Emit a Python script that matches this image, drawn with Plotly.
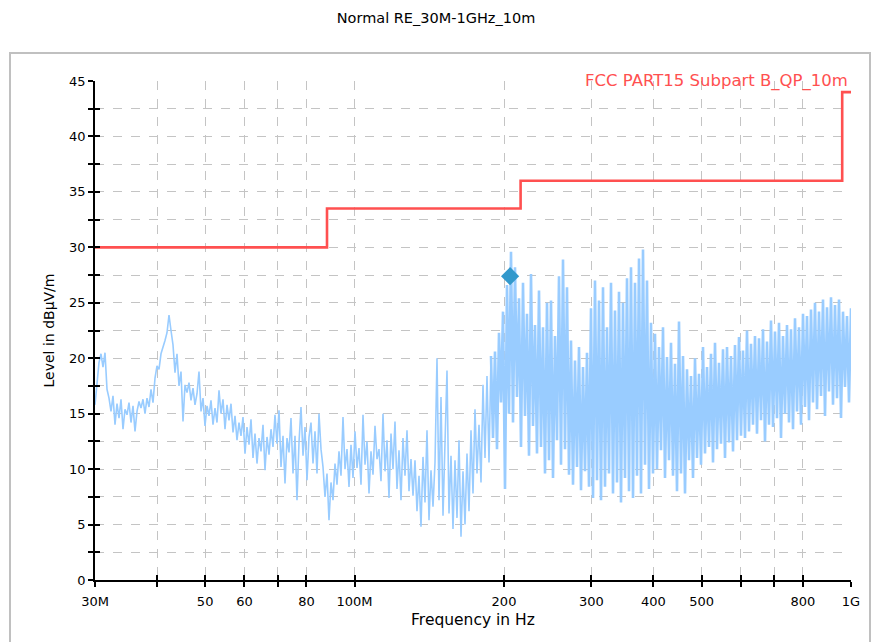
import numpy as np
import plotly.graph_objects as go

# ---------------- data ----------------
title_text = "Normal RE_30M-1GHz_10m"
limit_name = "FCC PART15 Subpart B_QP_10m"

# limit line (MHz, dBuV/m), step after each point
limit_freq = [30, 88, 216, 960, 1000]
limit_level = [30, 33.5, 36, 44, 44]

# final QP marker
marker_freq = [205.7]
marker_level = [27.4]

# pre-scan sweep levels (dBuV/m), read left to right across 30 MHz .. 1 GHz
scan_level = [
    15.8, 17.8, 19.6, 20.4, 19.2, 20.5, 17.2, 16.4, 15.2, 16.6,
    14.0, 15.9, 14.6, 16.3, 13.6, 15.4, 14.9, 16.0, 14.2, 15.7,
    13.4, 15.2, 16.1, 15.5, 16.3, 15.0, 16.4, 15.6, 17.2, 16.0,
    18.2, 19.3, 19.0, 20.4, 20.9, 21.6, 22.3, 23.9, 22.5, 21.2,
    18.7, 20.4, 17.5, 18.8, 14.3, 17.6, 16.9, 17.8, 16.2, 17.3,
    15.8, 16.8, 18.8, 15.2, 16.4, 13.9, 15.7, 14.8, 16.2, 14.0,
    15.5, 14.2, 17.1, 15.0, 16.3, 13.6, 15.8, 14.4, 15.9, 13.3,
    14.8, 12.6, 14.2, 13.0, 14.7, 11.4, 13.8, 12.2, 14.5, 11.0,
    13.2, 10.5, 12.8, 11.6, 14.0, 9.9, 12.9, 11.3, 13.6, 12.0,
    14.9, 12.3, 15.3, 10.2, 13.0, 8.7, 12.8, 11.5, 14.6, 9.6,
    13.0, 7.2, 12.4, 15.6, 11.2, 13.8, 9.0, 12.9, 14.2, 10.5,
    13.4, 9.6, 15.0, 11.8, 10.2, 7.5, 9.6, 5.4, 8.8, 7.2,
    10.5, 8.6, 11.6, 9.4, 14.7, 10.0, 11.8, 8.4, 12.2, 9.2,
    13.4, 10.1, 11.9, 8.6, 14.9, 10.4, 12.5, 7.8, 11.6, 9.5,
    13.9, 10.9, 11.8, 8.9, 15.0, 9.8, 12.6, 7.4, 13.2, 10.0,
    14.3, 8.2, 11.7, 7.2, 12.8, 9.4, 13.5, 8.0, 10.9, 7.6,
    10.8, 6.2, 9.4, 4.8, 11.1, 7.0, 13.5, 5.4, 9.9, 6.6,
    10.6, 20.0, 7.2, 16.5, 5.8, 12.4, 18.9, 6.0, 11.2, 4.6,
    10.8, 5.6, 12.6, 3.9, 9.8, 5.0, 11.4, 6.2, 13.5, 7.8,
    15.4, 9.6, 14.0, 8.8, 17.6, 11.0, 18.4, 10.6, 20.2, 12.8,
    20.6, 11.8, 22.3, 16.0, 24.2, 8.2, 26.6, 15.0, 29.6, 14.2,
    28.2, 16.5, 25.4, 12.0, 26.8, 14.8, 24.0, 11.2, 27.6, 13.9,
    23.0, 11.4, 26.1, 12.0, 22.8, 9.6, 25.0, 10.8, 25.2, 9.2,
    22.0, 12.6, 27.4, 10.4, 28.9, 11.8, 26.4, 9.5, 21.6, 8.6,
    19.8, 10.2, 21.0, 8.1, 19.2, 9.8, 20.5, 8.4, 24.5, 7.4,
    27.0, 9.0, 25.2, 7.2, 26.4, 8.4, 22.8, 9.6, 26.8, 7.8,
    24.3, 8.8, 26.0, 7.0, 25.0, 9.2, 27.2, 8.0, 28.2, 7.4,
    26.8, 9.4, 29.0, 7.8, 29.8, 10.4, 27.0, 8.2, 23.2, 9.6,
    22.2, 10.0, 21.0, 11.7, 22.8, 9.2, 20.1, 10.8, 21.4, 9.4,
    19.5, 8.0, 23.3, 9.6, 20.2, 7.8, 19.0, 10.8, 18.4, 9.2,
    20.0, 11.0, 18.6, 10.4, 21.0, 11.4, 19.2, 12.0, 20.4, 10.6,
    21.4, 11.8, 19.6, 12.3, 20.8, 11.0, 21.0, 12.4, 20.2, 11.6,
    21.2, 12.6, 21.9, 13.0, 20.7, 12.8, 22.5, 13.4, 21.3, 14.0,
    22.0, 13.2, 21.8, 14.4, 22.6, 12.5, 21.5, 14.0, 23.4, 13.8,
    22.4, 14.6, 23.2, 12.8, 22.0, 15.0, 23.0, 14.2, 22.6, 13.6,
    23.6, 15.2, 22.8, 14.0, 24.0, 15.6, 23.8, 14.4, 24.4, 16.0,
    25.0, 15.4, 24.2, 16.6, 25.3, 14.8, 24.6, 17.0, 25.5, 15.8,
    24.8, 16.4, 25.3, 14.6, 24.2, 17.4, 23.8, 16.0, 24.5,
]
# sweep frequencies: log-spaced receiver steps over 30 MHz .. 1 GHz
scan_freq = np.geomspace(30, 1000, len(scan_level))
dense_from_mhz = 188  # above this the sweep is drawn as a dense band of spikes

# axis ticks
x_tickvals = [30, 40, 50, 60, 70, 80, 100, 200, 300, 400, 500, 600, 700, 800, 1000]
x_ticktext = ["30M", "", "50", "60", "", "80", "100M", "200", "300", "400", "500", "", "", "800", "1G"]
y_tickvals = [0, 5, 10, 15, 20, 25, 30, 35, 40, 45]
y_ticktext = [str(v) for v in y_tickvals]

# ---------------- figure ----------------
FONT = "DejaVu Sans, Verdana, sans-serif"
BLUE = "#99ccff"
fig = go.Figure()

levels = np.array(scan_level)
split = int(np.searchsorted(scan_freq, dense_from_mhz))

fig.add_trace(go.Scatter(
    x=scan_freq[:split + 1], y=levels[:split + 1], mode="lines",
    line=dict(color=BLUE, width=1.6), hoverinfo="skip", showlegend=False))
fig.add_trace(go.Scatter(
    x=scan_freq[split:], y=levels[split:], mode="lines",
    line=dict(color=BLUE, width=2.6), hoverinfo="skip", showlegend=False))

fig.add_trace(go.Scatter(
    x=limit_freq, y=limit_level, mode="lines", line_shape="hv",
    line=dict(color="#ff5050", width=2.6), name=limit_name, showlegend=False))

fig.add_trace(go.Scatter(
    x=marker_freq, y=marker_level, mode="markers",
    marker=dict(symbol="diamond", size=14, color="#3399cc"), showlegend=False))

# empty helper trace so the inside-tick overlay axes are drawn
fig.add_trace(go.Scatter(x=[], y=[], xaxis="x2", yaxis="y2", showlegend=False))

xr = [np.log10(30), np.log10(1000)]
grid = dict(showgrid=True, gridcolor="#c4c4c4", griddash="dash", gridwidth=1)

fig.update_layout(
    width=872, height=642,
    margin=dict(l=95, r=21, t=81, b=62),
    paper_bgcolor="white", plot_bgcolor="white",
    font=dict(family=FONT, size=13, color="black"),
    title=dict(text=title_text, x=0.5, xref="container", xanchor="center",
               y=1 - 18 / 642, yref="container", yanchor="middle",
               font=dict(size=14.5, family=FONT, color="black")),
    xaxis=dict(type="log", range=xr, tickvals=x_tickvals, ticktext=x_ticktext,
               ticks="outside", ticklen=5, tickcolor="black", tickwidth=1.5,
               showline=True, linecolor="black", linewidth=1.5, zeroline=False,
               tickfont=dict(size=13), ticklabelstandoff=4,
               title=dict(text="Frequency in Hz", font=dict(size=15.5), standoff=6),
               **grid),
    yaxis=dict(range=[0, 45], tickvals=y_tickvals, ticktext=y_ticktext,
               ticks="outside", ticklen=5, tickcolor="black", tickwidth=1.5,
               showline=True, linecolor="black", linewidth=1.5, zeroline=False,
               tickfont=dict(size=13),
               minor=dict(dtick=2.5, tick0=0, ticks="outside", ticklen=5,
                          tickcolor="black", showgrid=True, gridcolor="#c4c4c4",
                          griddash="dash"),
               title=dict(text="Level in dBµV/m", font=dict(size=14), standoff=11),
               **grid),
    xaxis2=dict(type="log", range=xr, overlaying="x", anchor="y2", side="bottom",
                tickvals=x_tickvals, ticktext=[""] * len(x_tickvals),
                ticks="inside", ticklen=5, tickcolor="black", tickwidth=1.5,
                showgrid=False, showline=False, zeroline=False),
    yaxis2=dict(range=[0, 45], overlaying="y", anchor="x2", side="left",
                tickvals=[v * 2.5 for v in range(19)], ticktext=[""] * 19,
                ticks="inside", ticklen=5, tickcolor="black", tickwidth=1.5,
                showgrid=False, showline=False, zeroline=False),
    showlegend=False,
)

fig.add_annotation(x=1, xref="paper", y=45, yref="y", xanchor="right", yanchor="middle",
                   xshift=-1, text=limit_name, showarrow=False,
                   font=dict(size=16.5, color="#ff5050", family=FONT))

# outer frame
fig.add_shape(type="rect", xref="paper", yref="paper",
              x0=-85 / 756, x1=1 + 19 / 756, y0=-80 / 499, y1=1 + 28 / 499,
              line=dict(color="#c0c0c0", width=2), layer="below")

fig.write_html("out.html")
